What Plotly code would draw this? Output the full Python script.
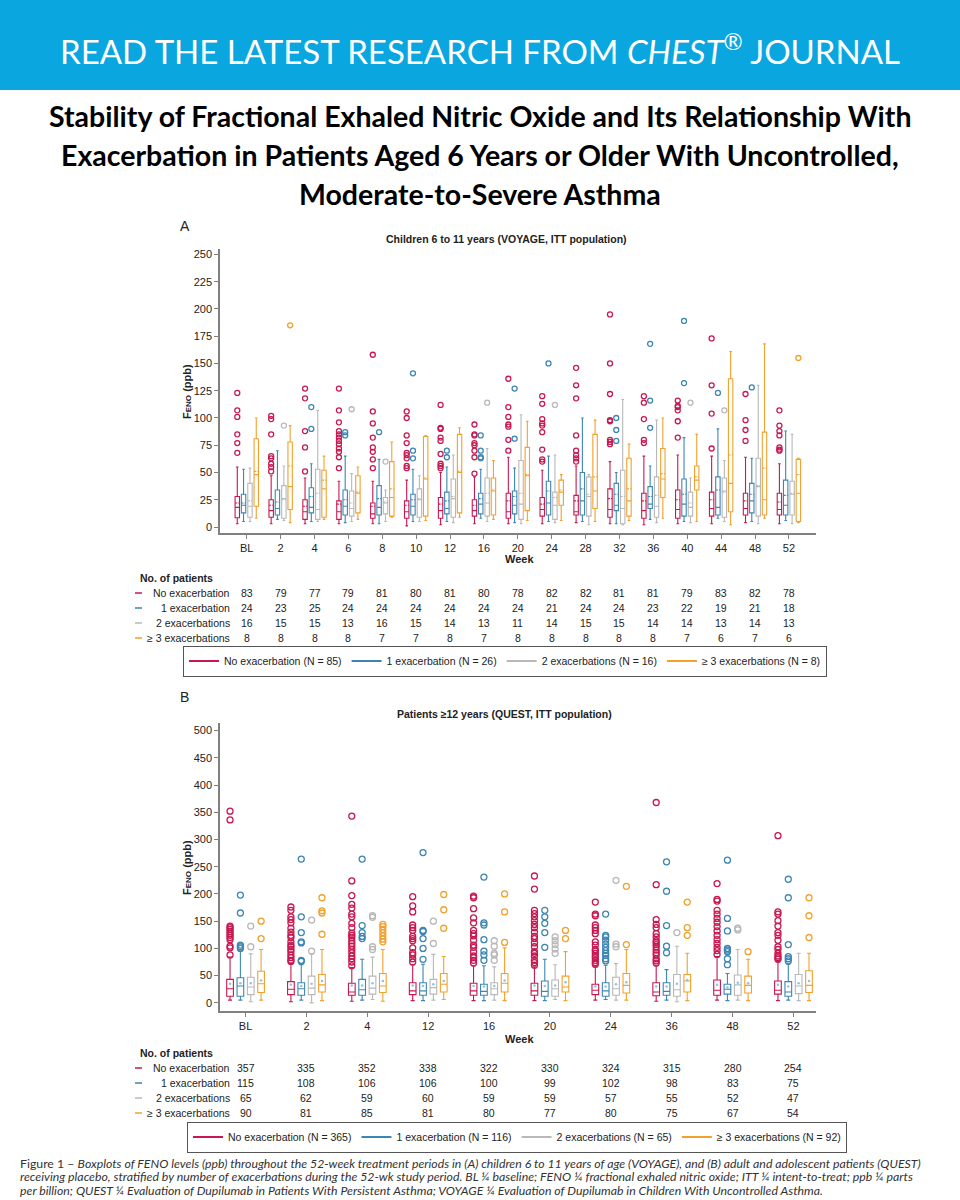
import plotly.graph_objects as go

# ---------------- data ----------------
A_WEEKS = ["BL", "2", "4", "6", "8", "10", "12", "16", "20", "24", "28", "32", "36", "40", "44", "48", "52"]
B_WEEKS = ["BL", "2", "4", "12", "16", "20", "24", "36", "48", "52"]

GROUPS = ["No exacerbation", "1 exacerbation", "2 exacerbations", "\u2265 3 exacerbations"]
LEGEND_NAMES = ["No exacerbation", "1 exacerbation", "2 exacerbations", "\u2265 3 exacerbations"]
COLORS = ["#c8184f", "#3d86b3", "#b8b8b8", "#f2a12c"]

A_N_TOTAL = [85, 26, 16, 8]
B_N_TOTAL = [365, 116, 65, 92]

A_PATIENTS = [
    [83, 79, 77, 79, 81, 80, 81, 80, 78, 82, 82, 81, 81, 79, 83, 82, 78],
    [24, 23, 25, 24, 24, 24, 24, 24, 24, 21, 24, 24, 23, 22, 19, 21, 18],
    [16, 15, 15, 13, 16, 15, 14, 13, 11, 14, 15, 15, 14, 14, 13, 14, 13],
    [8, 8, 8, 8, 7, 7, 8, 7, 8, 8, 8, 8, 8, 7, 6, 7, 6],
]
B_PATIENTS = [
    [357, 335, 352, 338, 322, 330, 324, 315, 280, 254],
    [115, 108, 106, 106, 100, 99, 102, 98, 83, 75],
    [65, 62, 59, 60, 59, 59, 57, 55, 52, 47],
    [90, 81, 85, 81, 80, 77, 80, 75, 67, 54],
]

# Panel A box statistics (rows: no / 1 / 2 / >=3 exacerbations)
A_LOW = [
    [3, 3, 3, 3, 3, 1, 2, 3, 3, 3, 4, 3, 2, 3, 3, 4, 3],
    [5, 7, 5, 4, 3, 5, 5, 8, 4, 5, 5, 3, 7, 5, 8, 5, 6],
    [5, 6, 5, 5, 5, 5, 4, 5, 3, 4, 2, 2, 4, 4, 5, 3, 3],
    [8, 4, 7, 7, 9, 6, 9, 7, 6, 6, 5, 6, 8, 5, 2, 8, 4],
]
A_Q1 = [
    [8.5, 9, 7, 7, 8, 8, 8, 10, 8, 10, 11, 9, 8, 8, 10, 11, 11],
    [13, 11, 13, 11, 11, 11, 12, 12, 12, 11, 11, 15, 17, 10, 11, 13, 11],
    [9, 8, 7, 10, 12, 9, 9, 10, 7, 7, 10, 3, 9, 10, 9, 10, 11],
    [19, 16, 9, 13, 10, 10, 13, 11, 15, 20, 17, 10, 27, 34, 14, 11, 5],
]
A_MED = [
    [18, 15, 14, 14, 12, 14, 15, 15, 14, 16, 14, 16, 15, 16, 17, 17, 16],
    [20, 17, 18, 19, 18, 19, 17, 21, 20, 22, 24, 20, 21, 21, 18, 24, 20],
    [19, 26, 16, 17, 22, 25, 26, 22, 21, 20, 28, 17, 19, 18, 33, 37, 30],
    [48, 37, 35, 31, 27, 44, 50, 33, 47, 32, 33, 24, 44, 43, 40, 25, 31],
]
A_Q3 = [
    [28, 25, 25, 24, 22, 24, 27, 25, 31, 27, 29, 35, 31, 34, 32, 31, 31],
    [30, 34, 36, 34, 38, 30, 32, 31, 33, 42, 50, 40, 37, 44, 46, 40, 43],
    [40, 38, 53, 33, 27, 35, 44, 45, 61, 32, 46, 52, 46, 32, 45, 63, 42],
    [81, 78, 52, 47, 60, 83, 85, 45, 73, 43, 85, 63, 72, 56, 136, 87, 62],
]
A_HIGH = [
    [55, 47, 45, 42, 42, 43, 50, 46, 64, 52, 56, 60, 65, 66, 65, 64, 58],
    [53, 70, 58, 65, 62, 53, 55, 53, 54, 65, 100, 50, 56, 82, 90, 63, 88],
    [54, 56, 107, 49, 34, 47, 66, 72, 103, 66, 48, 117, 98, 45, 61, 130, 85],
    [100, 93, 65, 55, 78, 84, 91, 61, 97, 48, 98, 76, 100, 85, 161, 168, 63],
]
A_MEAN = [
    [22, 20, 19, 21, 19, 20, 21, 20, 24, 21, 24, 26, 24, 25, 25, 24, 23],
    [22, 23, 28, 25, 26, 25, 24, 26, 28, 33, 35, 30, 28, 30, 34, 30, 29],
    [24, 25, 31, 22, 23, 26, 28, 31, 31, 27, 30, 28, 29, 22, 32, 38, 31],
    [51, 56, 43, 32, 35, 45, 51, 34, 48, 34, 46, 35, 49, 46, 66, 54, 48],
]
A_OUT = [
    [[123, 107, 101, 85, 77, 68], [102, 99, 85, 65, 63, 58, 55, 51], [127, 118, 88, 73, 51],
     [127, 107, 96, 88, 85, 82, 79, 76, 72, 69, 64, 54], [158, 106, 95, 82, 73, 69, 62, 54],
     [106, 100, 84, 77, 68, 66, 63, 56, 54], [112, 91, 90, 82, 79, 67, 58, 56, 54],
     [94, 85, 84, 77, 75, 70, 64, 49], [136, 110, 101, 94, 92, 80, 70],
     [120, 113, 99, 95, 93, 87, 71, 62, 60], [146, 130, 118, 84, 70, 66, 63, 60],
     [195, 150, 122, 98, 97, 80, 78, 76], [120, 114, 99, 80, 77], [116, 111, 110, 107, 97, 82],
     [173, 130, 104, 72], [122, 98, 89, 79], [107, 93, 88, 84, 73, 71, 70]],
    [[], [], [110, 90], [87, 84], [87], [141, 70, 63], [70, 64], [84, 70, 64, 63], [127, 81], [150], [],
     [100, 89, 79], [168, 116, 91], [189, 132], [123], [128], []],
    [[], [93], [], [108], [60], [], [], [114], [], [112], [], [], [], [114], [107], [], []],
    [[], [185], [], [], [], [], [], [], [], [], [], [], [], [], [], [], [155]],
]

# Panel B box statistics
B_LOW = [
    [5, 2, 3, 4, 4, 4, 5, 3, 5, 4],
    [5, 5, 5, 4, 4, 4, 6, 5, 4, 5],
    [2, 0, 6, 5, 5, 6, 5, 2, 5, 4],
    [5, 4, 3, 6, 4, 4, 5, 4, 4, 4],
]
B_Q1 = [
    [12, 15, 14, 15, 14, 14, 15, 13, 14, 16],
    [12, 14, 14, 14, 14, 12, 12, 14, 16, 12],
    [15, 15, 16, 16, 15, 12, 14, 12, 14, 17],
    [19, 20, 19, 20, 20, 20, 18, 20, 18, 19],
]
B_MED = [
    [26, 25, 20, 22, 22, 22, 23, 20, 23, 23],
    [31, 26, 24, 22, 21, 21, 22, 21, 25, 20],
    [29, 27, 27, 28, 26, 26, 26, 24, 33, 31],
    [35, 33, 31, 34, 36, 29, 32, 40, 32, 32],
]
B_Q3 = [
    [43, 39, 36, 37, 36, 36, 34, 37, 42, 40],
    [46, 37, 43, 37, 34, 40, 37, 37, 34, 39],
    [47, 49, 49, 43, 37, 42, 47, 52, 51, 52],
    [58, 52, 54, 54, 54, 49, 54, 52, 49, 59],
]
B_HIGH = [
    [84, 73, 65, 70, 68, 66, 66, 68, 85, 76],
    [95, 70, 80, 71, 68, 80, 69, 61, 54, 71],
    [90, 90, 84, 89, 66, 70, 72, 104, 98, 91],
    [98, 98, 98, 85, 101, 94, 98, 91, 80, 91],
]
B_MEAN = [
    [35, 33, 32, 32, 31, 32, 30, 30, 33, 33],
    [36, 31, 32, 31, 30, 31, 30, 30, 28, 30],
    [36, 35, 36, 34, 31, 32, 34, 35, 37, 36],
    [41, 40, 40, 40, 41, 38, 38, 42, 36, 40],
]
B_OUT = [
    [[352, 336, 141, 138, 135, 131, 127, 124, 120, 116, 104, 101, 88],
     [176, 170, 158, 153, 147, 137, 130, 124, 120, 112, 106, 103, 98, 94, 88, 83, 78, 76],
     [343, 224, 197, 181, 174, 163, 158, 146, 138, 128, 124, 120, 114, 109, 104, 98, 92, 86, 81, 75, 68],
     [195, 178, 167, 143, 138, 133, 122, 118, 114, 101, 92, 88, 81, 75],
     [196, 193, 173, 156, 147, 133, 127, 123, 115, 106, 102, 94, 86, 83, 78, 73],
     [233, 209, 170, 164, 158, 151, 144, 138, 130, 122, 118, 110, 103, 94, 91, 86, 78, 74, 69],
     [185, 163, 160, 143, 138, 133, 127, 112, 106, 98, 95, 91, 86, 83, 78, 74, 71],
     [368, 217, 153, 144, 138, 127, 121, 114, 111, 107, 103, 97, 92, 88, 81, 77, 73],
     [219, 190, 187, 170, 163, 155, 148, 140, 132, 124, 116, 109, 102, 96, 89],
     [307, 167, 163, 151, 141, 129, 124, 115, 103, 98, 91, 86, 83, 80]],
    [[198, 165, 106, 103, 100], [264, 158, 129, 112, 110, 78, 76], [264, 142, 129, 122, 118],
     [276, 133, 131, 118, 100, 80], [231, 147, 143, 116, 95, 88, 78], [170, 158, 146, 129, 102],
     [163, 124, 121, 115, 108, 102, 96, 91, 87, 81, 77], [259, 205, 142, 104, 92],
     [262, 155, 132, 100, 97, 94, 81, 70], [227, 193, 107, 85, 81, 77]],
    [[141, 103], [152, 95], [160, 157, 103, 98], [150, 109], [114, 104, 91, 88, 78],
     [121, 114, 107, 99, 91], [225, 108, 103], [129], [137, 134], []],
    [[150, 118], [193, 169, 165, 126], [144, 140, 135, 129, 123, 117, 112], [199, 171, 137],
     [200, 167, 111], [133, 118], [214, 107], [185, 138, 124], [94], [193, 160, 120]],
]

# ---------------- styling ----------------
W, H = 960, 1200
FONT = "Liberation Sans, Arial, Helvetica, sans-serif"
TXT = "#222222"
AXC = "#808080"


def px(xp):
    return xp / W


def py(yp):
    return 1 - yp / H


fig = go.Figure()


def add_panel(xa, ya, weeks, low, q1, med, q3, high, mean, outs, offsets, bw, msize, mean_line):
    for g in range(4):
        xs = [i + offsets[g] for i in range(len(weeks))]
        kw = dict(mean=mean[g], boxmean=True) if mean_line else dict(boxmean=False)
        fig.add_trace(go.Box(
            x=xs, lowerfence=low[g], q1=q1[g], median=med[g], q3=q3[g], upperfence=high[g],
            width=bw, whiskerwidth=0.6, line=dict(color=COLORS[g], width=1.1),
            fillcolor="rgba(255,255,255,0)", boxpoints=False, showlegend=False,
            hoverinfo="skip", xaxis=xa, yaxis=ya, **kw))
        ox, oy = [], []
        for i, vals in enumerate(outs[g]):
            ox += [xs[i]] * len(vals)
            oy += vals
        fig.add_trace(go.Scatter(
            x=ox, y=oy, mode="markers", showlegend=False, hoverinfo="skip",
            marker=dict(symbol="circle-open", size=msize, color=COLORS[g], line=dict(width=1.3)),
            xaxis=xa, yaxis=ya))
        if not mean_line:
            fig.add_trace(go.Scatter(
                x=xs, y=mean[g], mode="markers", showlegend=False, hoverinfo="skip",
                marker=dict(symbol="circle", size=2.5, color="#8ec3e3"),
                xaxis=xa, yaxis=ya))


add_panel("x", "y", A_WEEKS, A_LOW, A_Q1, A_MED, A_Q3, A_HIGH, A_MEAN, A_OUT,
          [-0.28, -0.095, 0.095, 0.28], 0.13, 5, True)
add_panel("x2", "y2", B_WEEKS, B_LOW, B_Q1, B_MED, B_Q3, B_HIGH, B_MEAN, B_OUT,
          [-0.255, -0.085, 0.085, 0.255], 0.11, 6, False)

# legend entries
for g in range(4):
    fig.add_trace(go.Scatter(x=[None], y=[None], mode="lines", line=dict(color=COLORS[g], width=2),
                             name=f"{LEGEND_NAMES[g]} (N = {A_N_TOTAL[g]})", legend="legend",
                             xaxis="x", yaxis="y"))
    fig.add_trace(go.Scatter(x=[None], y=[None], mode="lines", line=dict(color=COLORS[g], width=2),
                             name=f"{LEGEND_NAMES[g]} (N = {B_N_TOTAL[g]})", legend="legend2",
                             xaxis="x2", yaxis="y2"))

axis_common = dict(showline=True, linecolor=AXC, linewidth=1.5, showgrid=False, zeroline=False,
                   ticks="outside", ticklen=4, tickcolor=AXC, tickwidth=1.2,
                   tickfont=dict(family=FONT, size=11, color=TXT))

XDOM = [px(220), px(816)]
fig.update_layout(
    width=W, height=H, margin=dict(l=0, r=0, t=0, b=0),
    paper_bgcolor="white", plot_bgcolor="white",
    font=dict(family=FONT, size=11, color=TXT),
    xaxis=dict(domain=XDOM, range=[-0.79, 16.8], anchor="y",
               tickvals=list(range(len(A_WEEKS))), ticktext=A_WEEKS, **axis_common),
    yaxis=dict(domain=[py(533), py(249)], range=[-5.5, 255], anchor="x", dtick=25, **axis_common),
    xaxis2=dict(domain=XDOM, range=[-0.42, 9.37], anchor="y2",
                tickvals=list(range(len(B_WEEKS))), ticktext=B_WEEKS, **axis_common),
    yaxis2=dict(domain=[py(1011), py(723)], range=[-15, 514], anchor="x2", dtick=50, **axis_common),
    legend=dict(orientation="h", x=px(505), xanchor="center", y=py(661), yanchor="middle",
                bordercolor="#555555", borderwidth=1, itemwidth=30,
                font=dict(family=FONT, size=10.5, color=TXT)),
    legend2=dict(orientation="h", x=px(517), xanchor="center", y=py(1137), yanchor="middle",
                 bordercolor="#555555", borderwidth=1, itemwidth=30,
                 font=dict(family=FONT, size=10.5, color=TXT)),
)

shapes = [dict(type="rect", xref="paper", yref="paper", x0=0, x1=1, y0=py(90), y1=1,
               fillcolor="#0aa6df", line=dict(width=0), layer="below")]
ann = []


def text(t, x, y, size, xanchor="center", family=FONT, color=TXT, xref="paper", angle=0):
    ann.append(dict(text=t, x=x, y=y, xref=xref, yref="paper", xanchor=xanchor, yanchor="middle",
                    showarrow=False, textangle=angle, font=dict(family=family, size=size, color=color)))


# header and title
text("READ THE LATEST RESEARCH FROM <i>CHEST</i><sup>\u00ae</sup> JOURNAL", 0.5, py(49), 33,
     family="Lato", color="white")
TITLE_LINES = ["Stability of Fractional Exhaled Nitric Oxide and Its Relationship With",
               "Exacerbation in Patients Aged 6 Years or Older With Uncontrolled,",
               "Moderate-to-Severe Asthma"]
for t, yy in zip(TITLE_LINES, [116, 155, 194]):
    text(f"<b>{t}</b>", 0.5, py(yy), 28.5, family="Lato", color="black")

# panel labels and titles
text("A", px(178), py(226), 14, xanchor="left")
text("B", px(178), py(697), 14, xanchor="left")
text("<b>Children 6 to 11 years (VOYAGE, ITT population)</b>", px(506), py(239), 10.5)
text("<b>Patients \u226512 years (QUEST, ITT population)</b>", px(505), py(714), 10.5)

YTITLE = "<b>F<span style='font-size:8px'>ENO</span> (ppb)</b>"
text(YTITLE, px(187), py(392), 11, angle=-90)
text(YTITLE, px(187), py(868), 11, angle=-90)
text("<b>Week</b>", px(519), py(559), 11)
text("<b>Week</b>", px(519), py(1039), 11)


def add_table(xref, head_y, row_ys, label_right, counts):
    text("<b>No. of patients</b>", px(138), py(head_y), 10.5, xanchor="left")
    for g in range(4):
        yy = row_ys[g]
        shapes.append(dict(type="line", xref="paper", yref="paper", x0=px(135), x1=px(142),
                           y0=py(yy), y1=py(yy), line=dict(color=COLORS[g], width=1.5)))
        text(GROUPS[g], px(label_right), py(yy), 10.5, xanchor="right")
        for i, v in enumerate(counts[g]):
            text(str(v), i, py(yy), 10.5, xref=xref)


add_table("x", 578, [593, 608, 623, 638], 232, A_PATIENTS)
add_table("x2", 1053, [1068, 1083, 1098, 1113], 232, B_PATIENTS)

CAPTION = [
    "Figure 1 \u2013 <i>Boxplots of FENO levels (ppb) throughout the 52-week treatment periods in (A) children 6 to 11 years of age (VOYAGE), and (B) adult and adolescent patients (QUEST)</i>",
    "<i>receiving placebo, stratified by number of exacerbations during the 52-wk study period. BL \u00bc baseline; FENO \u00bc fractional exhaled nitric oxide; ITT \u00bc intent-to-treat; ppb \u00bc parts</i>",
    "<i>per billion; QUEST \u00bc Evaluation of Dupilumab in Patients With Persistent Asthma; VOYAGE \u00bc Evaluation of Dupilumab in Children With Uncontrolled Asthma.</i>",
]
for t, yy in zip(CAPTION, [1163, 1176.5, 1190]):
    text(t, px(18), py(yy), 12.3, xanchor="left", family="Lato", color="#333333")

fig.update_layout(shapes=shapes, annotations=ann)
fig.write_html("out.html", config={"displayModeBar": False},
               post_script="document.body.style.margin='0';document.body.style.overflow='hidden';")
